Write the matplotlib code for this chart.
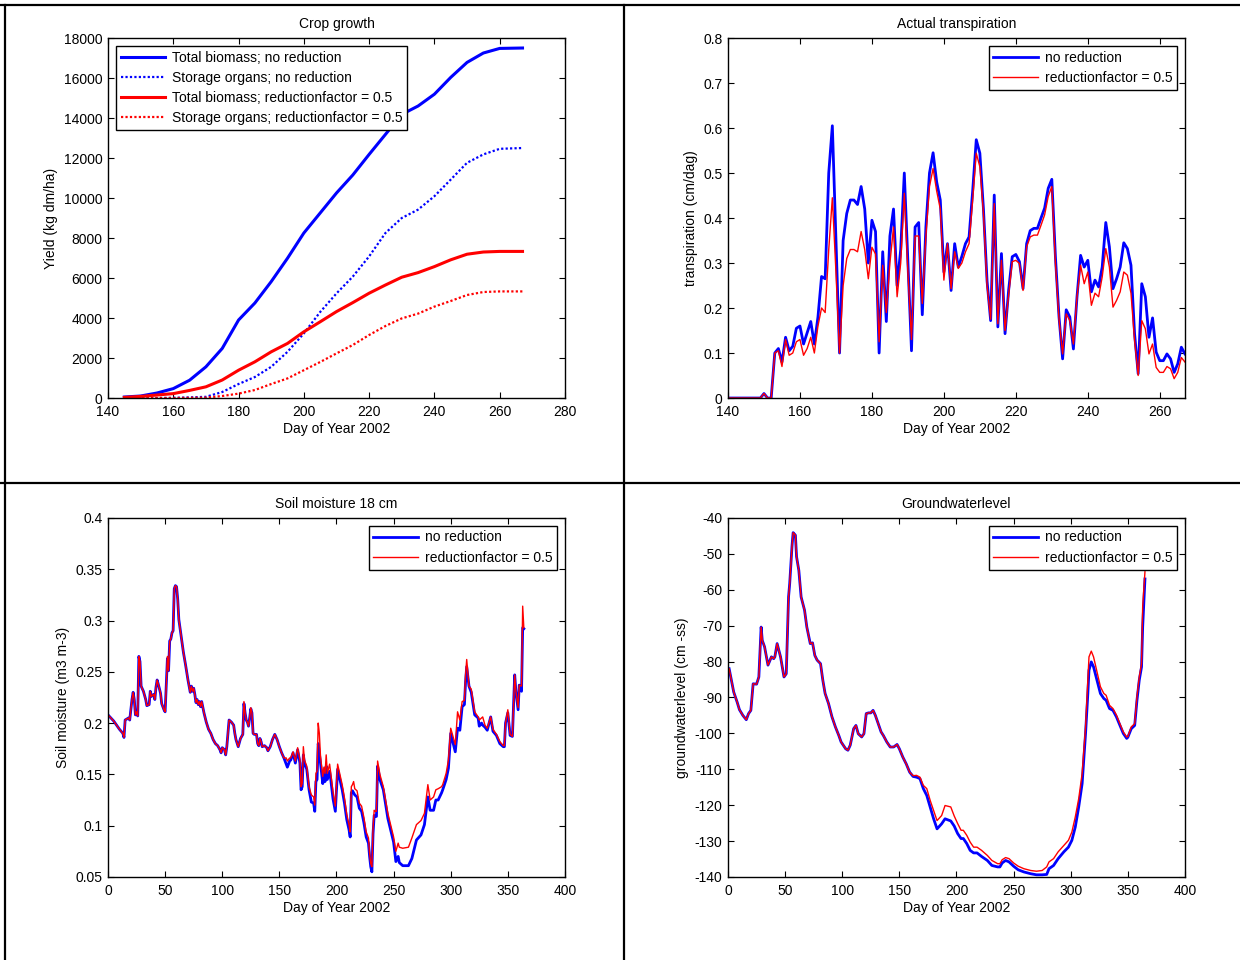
import numpy as np
import matplotlib
matplotlib.use("Agg")
import matplotlib.pyplot as plt
from matplotlib.lines import Line2D
from matplotlib.ticker import FormatStrFormatter

plt.rcParams['font.family'] = ['Liberation Sans', 'DejaVu Sans']
plt.rcParams['font.size'] = 10
plt.rcParams['axes.unicode_minus'] = False

# ---- crop growth (kg dm/ha) ----
crop_day = [145, 150, 155, 160, 165, 170, 175, 180, 185, 190, 195, 200, 205, 210,
            215, 220, 225, 230, 235, 240, 245, 250, 255, 260, 267]
biomass_none = [50, 100, 250, 470, 890, 1560, 2480, 3900, 4750, 5820, 6990, 8250, 9250, 10250,
                11150, 12180, 13180, 14180, 14600, 15190, 16030, 16780, 17250, 17480, 17500]
storage_none = [0, 0, 0, 10, 30, 60, 300, 700, 1050, 1560, 2310, 3230, 4300, 5230,
                6070, 7080, 8250, 9000, 9420, 10090, 10920, 11760, 12180, 12460, 12500]
biomass_red = [30, 80, 150, 220, 380, 560, 900, 1390, 1810, 2310, 2730, 3310, 3810, 4320,
               4770, 5240, 5650, 6040, 6270, 6570, 6910, 7190, 7300, 7330, 7330]
storage_red = [0, 0, 0, 0, 10, 20, 100, 220, 400, 700, 980, 1390, 1800, 2230,
               2650, 3150, 3600, 3980, 4220, 4570, 4850, 5150, 5300, 5330, 5330]

# ---- actual transpiration (cm/dag), days 140..267 ----
tr_day = np.arange(140, 268)
tr_none = [0, 0, 0, 0, 0, 0, 0, 0, 0, 0,
           0.01, 0, 0, 0.10, 0.11, 0.08, 0.135, 0.105, 0.115, 0.155,
           0.16, 0.12, 0.145, 0.17, 0.12, 0.18, 0.27, 0.265, 0.50, 0.605,
           0.35, 0.10, 0.35, 0.41, 0.44, 0.44, 0.43, 0.47, 0.42, 0.30,
           0.395, 0.37, 0.10, 0.325, 0.17, 0.36, 0.42, 0.25, 0.33, 0.50,
           0.30, 0.105, 0.38, 0.39, 0.185, 0.38, 0.50, 0.545, 0.48, 0.44,
           0.28, 0.343, 0.239, 0.343, 0.291, 0.315, 0.343, 0.358, 0.46, 0.574,
           0.544, 0.42, 0.26, 0.172, 0.451, 0.158, 0.321, 0.143, 0.24, 0.314,
           0.319, 0.303, 0.243, 0.343, 0.372, 0.377, 0.377, 0.40, 0.422, 0.466,
           0.486, 0.314, 0.18, 0.087, 0.196, 0.18, 0.109, 0.225, 0.317, 0.291,
           0.306, 0.236, 0.262, 0.247, 0.291, 0.39, 0.336, 0.243, 0.265, 0.291,
           0.345, 0.332, 0.295, 0.143, 0.054, 0.254, 0.225, 0.135, 0.178, 0.102,
           0.083, 0.083, 0.098, 0.087, 0.057, 0.076, 0.113, 0.098]
tr_red = [0, 0, 0, 0, 0, 0, 0, 0, 0, 0,
          0.01, 0, 0, 0.10, 0.105, 0.07, 0.13, 0.095, 0.10, 0.125,
          0.13, 0.095, 0.11, 0.135, 0.10, 0.16, 0.20, 0.19, 0.33, 0.445,
          0.28, 0.10, 0.25, 0.31, 0.33, 0.33, 0.325, 0.37, 0.33, 0.265,
          0.335, 0.32, 0.125, 0.295, 0.19, 0.30, 0.38, 0.225, 0.30, 0.455,
          0.28, 0.13, 0.36, 0.36, 0.21, 0.36, 0.47, 0.51, 0.46, 0.42,
          0.262, 0.343, 0.243, 0.325, 0.288, 0.30, 0.325, 0.343, 0.44, 0.544,
          0.514, 0.41, 0.25, 0.175, 0.432, 0.165, 0.306, 0.15, 0.23, 0.303,
          0.306, 0.299, 0.239, 0.336, 0.358, 0.362, 0.362, 0.384, 0.407, 0.448,
          0.470, 0.30, 0.175, 0.098, 0.187, 0.172, 0.12, 0.225, 0.295, 0.254,
          0.28, 0.206, 0.233, 0.225, 0.269, 0.332, 0.291, 0.202, 0.217, 0.236,
          0.28, 0.273, 0.233, 0.128, 0.05, 0.172, 0.154, 0.098, 0.12, 0.068,
          0.057, 0.057, 0.07, 0.065, 0.043, 0.057, 0.09, 0.08]

# ---- soil moisture 18 cm (m3 m-3) ----
sm_day = [0, 5, 10, 13, 14, 15, 18, 19, 21, 22, 23, 24, 25, 26, 27, 28, 29, 31, 33, 34,
          36, 37, 38, 40, 41, 42, 43, 44, 46, 47, 49, 50, 51, 52, 53, 54, 55, 56, 57, 58,
          59, 60, 61, 62, 64, 66, 68, 70, 72, 73, 74, 75, 76, 77, 78, 79, 80, 81, 82, 84,
          86, 88, 90, 92, 94, 96, 98, 99, 100, 102, 103, 104, 106, 108, 110, 111, 112, 114, 116, 118,
          119, 120, 121, 122, 123, 124, 125, 126, 127, 128, 130, 131, 132, 133, 134, 135, 137, 139, 140, 142,
          144, 146, 148, 150, 152, 154, 156, 157, 159, 160, 162, 164, 166, 168, 169, 170, 171, 172, 174, 176,
          178, 180, 181, 182, 183, 184, 185, 186, 188, 189, 190, 191, 192, 194, 195, 197, 199, 200, 201, 203,
          205, 207, 209, 211, 212, 213, 214, 215, 216, 218, 220, 222, 224, 226, 228, 229, 230, 231, 232, 233,
          234, 235, 236, 238, 241, 245, 250, 252, 254, 255, 258, 263, 266, 270, 274, 277, 280, 282, 285, 287,
          289, 292, 293, 296, 298, 300, 304, 306, 308, 310, 312, 313, 314, 316, 318, 321, 324, 325, 327, 328,
          330, 332, 335, 337, 340, 343, 346, 347, 348, 350, 352, 354, 356, 357, 359, 360, 362, 363, 364]
sm_none = [0.208, 0.202, 0.194, 0.190, 0.186, 0.203, 0.205, 0.203, 0.223, 0.230, 0.223, 0.208, 0.211, 0.207, 0.265, 0.260, 0.236, 0.231, 0.223, 0.217,
           0.218, 0.231, 0.226, 0.228, 0.223, 0.235, 0.242, 0.238, 0.229, 0.219, 0.213, 0.211, 0.236, 0.263, 0.251, 0.280, 0.282, 0.288, 0.290, 0.331,
           0.334, 0.333, 0.321, 0.301, 0.285, 0.269, 0.256, 0.242, 0.230, 0.236, 0.231, 0.234, 0.228, 0.220, 0.223, 0.218, 0.221, 0.216, 0.221, 0.210,
           0.201, 0.194, 0.190, 0.184, 0.180, 0.178, 0.174, 0.171, 0.176, 0.174, 0.169, 0.177, 0.203, 0.201, 0.198, 0.190, 0.184, 0.177, 0.185, 0.189,
           0.219, 0.210, 0.203, 0.201, 0.197, 0.205, 0.214, 0.210, 0.190, 0.189, 0.189, 0.180, 0.178, 0.185, 0.182, 0.177, 0.178, 0.176, 0.173, 0.177,
           0.184, 0.189, 0.184, 0.177, 0.171, 0.166, 0.160, 0.157, 0.163, 0.164, 0.171, 0.161, 0.174, 0.161, 0.135, 0.138, 0.169, 0.161, 0.155, 0.135,
           0.123, 0.122, 0.114, 0.143, 0.145, 0.180, 0.171, 0.161, 0.141, 0.151, 0.143, 0.158, 0.145, 0.153, 0.145, 0.126, 0.114, 0.135, 0.155, 0.145,
           0.135, 0.122, 0.106, 0.096, 0.089, 0.132, 0.134, 0.132, 0.130, 0.128, 0.117, 0.114, 0.103, 0.089, 0.083, 0.070, 0.060, 0.055, 0.092, 0.110,
           0.109, 0.109, 0.158, 0.145, 0.135, 0.107, 0.084, 0.065, 0.070, 0.064, 0.061, 0.061, 0.068, 0.086, 0.091, 0.101, 0.128, 0.115, 0.115, 0.125,
           0.125, 0.132, 0.135, 0.145, 0.156, 0.190, 0.172, 0.195, 0.193, 0.216, 0.218, 0.240, 0.255, 0.236, 0.230, 0.208, 0.205, 0.197, 0.200, 0.198,
           0.196, 0.193, 0.206, 0.192, 0.188, 0.180, 0.177, 0.177, 0.200, 0.210, 0.188, 0.187, 0.247, 0.232, 0.213, 0.237, 0.231, 0.293, 0.292]
sm_red = [0.208, 0.202, 0.194, 0.190, 0.186, 0.203, 0.205, 0.203, 0.223, 0.230, 0.223, 0.208, 0.211, 0.207, 0.265, 0.260, 0.236, 0.231, 0.223, 0.217,
          0.218, 0.231, 0.226, 0.228, 0.223, 0.235, 0.242, 0.238, 0.229, 0.219, 0.213, 0.211, 0.236, 0.265, 0.251, 0.280, 0.282, 0.288, 0.290, 0.331,
          0.334, 0.333, 0.321, 0.301, 0.285, 0.269, 0.256, 0.242, 0.230, 0.236, 0.231, 0.234, 0.228, 0.220, 0.223, 0.218, 0.221, 0.216, 0.221, 0.210,
          0.201, 0.194, 0.190, 0.184, 0.180, 0.178, 0.174, 0.171, 0.176, 0.174, 0.169, 0.177, 0.203, 0.201, 0.198, 0.190, 0.184, 0.177, 0.185, 0.189,
          0.221, 0.210, 0.203, 0.201, 0.197, 0.205, 0.215, 0.210, 0.190, 0.189, 0.189, 0.180, 0.178, 0.185, 0.182, 0.177, 0.178, 0.176, 0.173, 0.177,
          0.184, 0.189, 0.184, 0.177, 0.171, 0.166, 0.166, 0.163, 0.166, 0.166, 0.172, 0.163, 0.176, 0.164, 0.138, 0.141, 0.177, 0.164, 0.158, 0.138,
          0.130, 0.128, 0.120, 0.151, 0.153, 0.200, 0.190, 0.168, 0.148, 0.157, 0.151, 0.169, 0.151, 0.160, 0.151, 0.133, 0.119, 0.140, 0.160, 0.150,
          0.140, 0.127, 0.111, 0.101, 0.094, 0.138, 0.140, 0.143, 0.136, 0.134, 0.122, 0.119, 0.108, 0.094, 0.088, 0.073, 0.063, 0.060, 0.097, 0.115,
          0.114, 0.114, 0.163, 0.150, 0.138, 0.112, 0.089, 0.075, 0.083, 0.079, 0.078, 0.079, 0.088, 0.101, 0.105, 0.112, 0.140, 0.125, 0.128, 0.135,
          0.136, 0.138, 0.140, 0.151, 0.164, 0.195, 0.179, 0.211, 0.203, 0.221, 0.222, 0.247, 0.262, 0.236, 0.233, 0.211, 0.206, 0.203, 0.205, 0.206,
          0.198, 0.195, 0.206, 0.194, 0.189, 0.182, 0.178, 0.178, 0.200, 0.213, 0.189, 0.187, 0.247, 0.232, 0.215, 0.237, 0.236, 0.314, 0.293]

# ---- groundwater level (cm -ss) ----
gw_day = [1, 3, 5, 8, 10, 13, 16, 18, 20, 22, 25, 27, 29, 30, 32, 34, 35, 38, 40, 41,
          43, 46, 48, 49, 51, 53, 54, 56, 57, 59, 60, 62, 64, 67, 69, 72, 74, 76, 78, 81,
          83, 85, 88, 91, 94, 97, 99, 103, 105, 107, 110, 112, 114, 117, 119, 121, 123, 125, 127, 129,
          132, 134, 136, 139, 142, 145, 148, 150, 153, 156, 159, 162, 165, 168, 171, 174, 177, 180, 183, 187,
          190, 195, 198, 201, 204, 206, 209, 212, 215, 218, 222, 227, 231, 236, 238, 240, 243, 246, 250, 254,
          259, 265, 270, 275, 279, 281, 285, 289, 294, 298, 301, 304, 307, 310, 313, 315, 316, 318, 320, 323,
          326, 329, 331, 334, 337, 340, 343, 346, 349, 350, 353, 356, 358, 360, 362, 363, 365]
gw_none = [-82.0, -85.2, -88.5, -91.3, -93.4, -95.0, -96.2, -94.5, -93.6, -86.2, -86.3, -84.3, -70.4, -74.1, -75.9, -79.2, -81.0, -78.7, -79.2, -78.7,
           -75.0, -78.7, -82.4, -84.3, -83.4, -62.0, -58.3, -48.0, -44.1, -44.8, -50.8, -54.6, -62.0, -65.7, -70.4, -75.0, -74.8, -78.3, -79.6, -80.6,
           -85.2, -88.9, -91.7, -95.4, -98.2, -100.6, -102.4, -104.3, -104.7, -103.3, -98.7, -97.8, -100.1, -101.0, -100.1, -94.5, -94.3, -94.3, -93.6, -95.0,
           -97.8, -99.6, -100.6, -102.4, -103.8, -103.8, -103.1, -104.3, -106.6, -108.5, -110.8, -112.0, -112.2, -112.6, -115.4, -117.3, -120.5, -123.8, -126.6, -125.2,
           -123.8, -124.4, -125.8, -127.9, -129.3, -129.3, -130.7, -132.6, -133.3, -133.3, -134.3, -135.4, -136.8, -137.2, -137.2, -136.1, -135.4, -135.8, -137.0, -138.0,
           -138.6, -139.1, -139.4, -139.4, -139.3, -137.7, -136.8, -134.9, -133.0, -131.7, -129.8, -126.1, -120.5, -114.0, -100.0, -88.9, -82.4, -80.1, -81.5, -85.2,
           -88.9, -90.3, -90.8, -93.1, -93.6, -95.4, -97.7, -100.0, -101.4, -101.1, -98.7, -97.8, -90.8, -85.2, -81.5, -70.3, -57.0]
gw_red = [-82.0, -85.2, -88.5, -91.3, -93.4, -95.0, -96.2, -94.5, -93.6, -86.2, -86.3, -84.3, -70.4, -74.1, -75.9, -79.2, -81.0, -78.7, -79.2, -78.7,
          -75.0, -78.7, -82.4, -84.3, -83.4, -62.0, -58.3, -48.0, -44.1, -44.8, -50.8, -54.6, -62.0, -65.7, -70.4, -75.0, -74.8, -78.3, -79.6, -80.6,
          -85.2, -88.9, -91.7, -95.4, -98.2, -100.6, -102.4, -104.3, -104.7, -103.3, -98.7, -97.8, -100.1, -101.0, -100.1, -94.5, -94.3, -94.3, -93.6, -95.0,
          -97.8, -99.6, -100.6, -102.4, -103.8, -103.8, -103.1, -104.3, -106.6, -108.5, -110.8, -111.8, -111.7, -112.2, -114.5, -115.4, -118.7, -121.5, -124.3, -122.9,
          -120.1, -120.5, -123.0, -125.1, -127.0, -127.0, -128.4, -130.3, -131.7, -131.7, -132.6, -134.0, -135.4, -136.3, -136.3, -135.2, -134.6, -134.9, -136.1, -137.0,
          -137.7, -138.2, -138.4, -138.2, -137.2, -135.8, -134.9, -133.0, -131.2, -129.8, -127.5, -123.3, -118.2, -111.2, -98.2, -85.2, -78.7, -77.1, -78.7, -82.9,
          -87.0, -88.9, -89.4, -92.2, -93.1, -94.9, -97.3, -99.6, -101.0, -100.9, -98.2, -97.3, -89.8, -84.3, -80.6, -64.7, -55.0]

BLUE = '#0000ff'
RED = '#ff0000'

fig = plt.figure(figsize=(12.4, 9.6), dpi=100)
ax1 = fig.add_axes([0.0871, 0.5854, 0.3685, 0.3750])
ax2 = fig.add_axes([0.5871, 0.5854, 0.3685, 0.3750])
ax3 = fig.add_axes([0.0871, 0.0865, 0.3685, 0.3740])
ax4 = fig.add_axes([0.5871, 0.0865, 0.3685, 0.3740])


def style(ax):
    ax.tick_params(direction='in', top=True, right=True, length=4, width=0.8, labelsize=10)
    ax.tick_params(axis='x', pad=5)
    ax.tick_params(axis='y', pad=4)
    for s in ax.spines.values():
        s.set_linewidth(1.0)
    ax.set_xlabel('Day of Year 2002', fontsize=10, labelpad=2)
    ax.yaxis.set_major_formatter(FormatStrFormatter('%g'))


legend_kw = dict(fontsize=10, fancybox=False, framealpha=1, edgecolor='black', borderpad=0.35,
                 labelspacing=0.45, handlelength=3.2, handletextpad=0.5, borderaxespad=0.55)

# crop growth
ax1.plot(crop_day, biomass_none, color=BLUE, lw=2.2, label='Total biomass; no reduction')
ax1.plot(crop_day, storage_none, color=BLUE, lw=1.6, ls=(0, (1, 1)), label='Storage organs; no reduction')
ax1.plot(crop_day, biomass_red, color=RED, lw=2.2, label='Total biomass; reductionfactor = 0.5')
ax1.plot(crop_day, storage_red, color=RED, lw=1.6, ls=(0, (1, 1)), label='Storage organs; reductionfactor = 0.5')
ax1.set_xlim(140, 280)
ax1.set_ylim(0, 18000)
ax1.set_xticks(np.arange(140, 281, 20))
ax1.set_yticks(np.arange(0, 18001, 2000))
ax1.set_title('Crop growth', fontsize=10, pad=7)
ax1.set_ylabel('Yield (kg dm/ha)', fontsize=10)
style(ax1)
lg = ax1.legend(loc='upper left', **legend_kw)
lg.get_frame().set_linewidth(1.0)

# transpiration
ax2.plot(tr_day, tr_none, color=BLUE, lw=2, label='no reduction')
ax2.plot(tr_day, tr_red, color=RED, lw=1, label='reductionfactor = 0.5')
ax2.set_xlim(140, 267)
ax2.set_ylim(0, 0.8)
ax2.set_xticks(np.arange(140, 261, 20))
ax2.set_yticks(np.arange(0, 0.81, 0.1))
ax2.set_title('Actual transpiration', fontsize=10, pad=7)
ax2.set_ylabel('transpiration (cm/dag)', fontsize=10)
style(ax2)
lg = ax2.legend(loc='upper right', **legend_kw)
lg.get_frame().set_linewidth(1.0)

# soil moisture
ax3.plot(sm_day, sm_none, color=BLUE, lw=2, label='no reduction')
ax3.plot(sm_day, sm_red, color=RED, lw=1, label='reductionfactor = 0.5')
ax3.set_xlim(0, 400)
ax3.set_ylim(0.05, 0.4)
ax3.set_xticks(np.arange(0, 401, 50))
ax3.set_yticks(np.arange(0.05, 0.401, 0.05))
ax3.set_title('Soil moisture 18 cm', fontsize=10, pad=7)
ax3.set_ylabel('Soil moisture (m3 m-3)', fontsize=10)
style(ax3)
lg = ax3.legend(loc='upper right', **legend_kw)
lg.get_frame().set_linewidth(1.0)

# groundwater
ax4.plot(gw_day, gw_none, color=BLUE, lw=2, label='no reduction')
ax4.plot(gw_day, gw_red, color=RED, lw=1, label='reductionfactor = 0.5')
ax4.set_xlim(0, 400)
ax4.set_ylim(-140, -40)
ax4.set_xticks(np.arange(0, 401, 50))
ax4.set_yticks(np.arange(-140, -39, 10))
ax4.set_title('Groundwaterlevel', fontsize=10, pad=7)
ax4.set_ylabel('groundwaterlevel (cm -ss)', fontsize=10)
style(ax4)
lg = ax4.legend(loc='upper right', **legend_kw)
lg.get_frame().set_linewidth(1.0)

# table-like frame lines
for xs, ys in [([0.0, 1.0], [0.9948, 0.9948]),
               ([0.004, 0.004], [0.0, 0.9948]),
               ([0.5032, 0.5032], [0.0, 0.9948]),
               ([0.0, 1.0], [0.497, 0.497])]:
    fig.add_artist(Line2D(xs, ys, color='black', lw=1.6, transform=fig.transFigure))

fig.savefig('out.png', dpi=100)
